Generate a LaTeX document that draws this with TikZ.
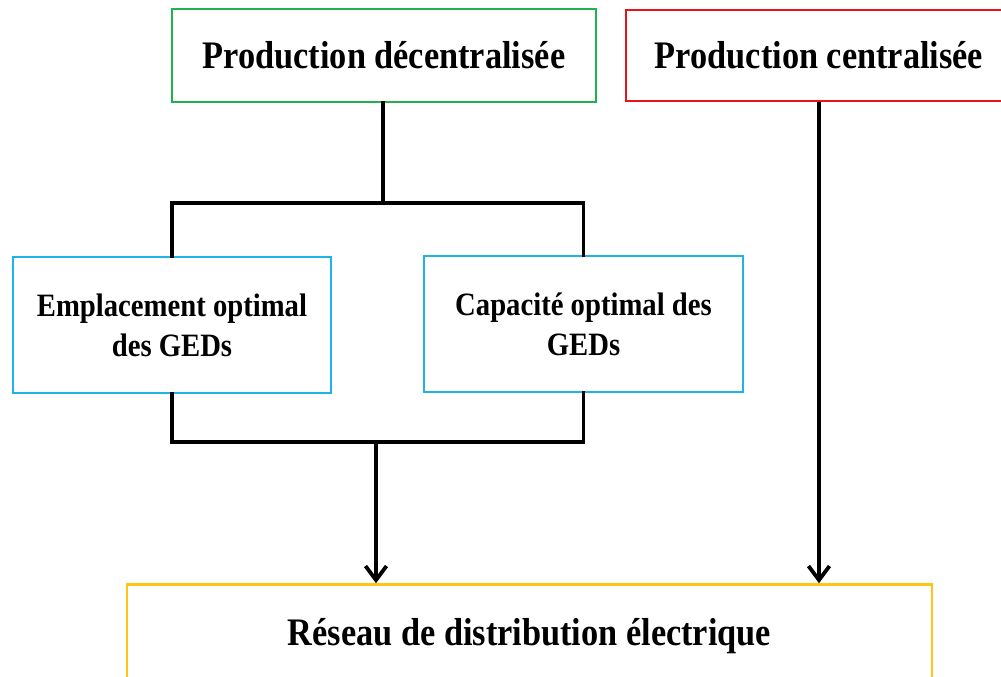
\documentclass[tikz,border=0pt]{standalone}
\usepackage{fontspec}
\setmainfont{Liberation Serif}[FakeStretch=0.88]
\usetikzlibrary{arrows.meta}

\definecolor{boxgreen}{RGB}{34,177,76}
\definecolor{boxred}{RGB}{230,20,26}
\definecolor{boxblue}{RGB}{30,180,230}
\definecolor{boxyellow}{RGB}{255,196,20}

\tikzset{
  block/.style={draw, line width=2.6pt, fill=white, align=center, inner sep=0pt,
    font=\bfseries\fontsize{39}{44}\selectfont},
  subblock/.style={block, font=\bfseries\fontsize{32.6}{40}\selectfont},
  wire/.style={line width=3.8pt, line cap=rect},
  feed/.style={line width=3.6pt, -{Straight Barb[length=14pt, width=21pt, line width=3.8pt]}}
}

\begin{document}
\begin{tikzpicture}[x=1pt, y=-1pt]
  \useasboundingbox (0,0) rectangle (1001,677);
  \clip (0,0) rectangle (1001,677);

  % sources
  \node[block, draw=boxgreen, minimum width=424pt, minimum height=93pt] (dec) at (384,55.5) {Production décentralisée};
  \node[block, draw=boxred, minimum width=386pt, minimum height=91pt] (cen) at (819,55.5) {Production centralisée};

  % planning of distributed generation
  \node[subblock, draw=boxblue, minimum width=318pt, minimum height=136pt] (loc) at (172,325) {Emplacement optimal\\des GEDs};
  \node[subblock, draw=boxblue, minimum width=319pt, minimum height=136pt] (cap) at (583.5,324) {Capacité optimal des\\GEDs};

  % distribution network
  \node[block, draw=boxyellow, minimum width=805pt, minimum height=103pt] (net) at (529.5,636) {Réseau de distribution électrique};

  % junctions
  \coordinate (top) at (383,203);
  \coordinate (bot) at (376,442);

  \draw[wire] (dec.south -| top) -- (top);
  \draw[wire] (loc.north) -- (loc.north |- top) -- (cap.north |- top) -- (cap.north);
  \draw[wire] (loc.south) -- (loc.south |- bot) -- (cap.south |- bot) -- (cap.south);
  \draw[feed] (bot) -- (net.north -| bot);
  \draw[feed] (cen.south) -- (net.north -| cen.south);
\end{tikzpicture}
\end{document}
